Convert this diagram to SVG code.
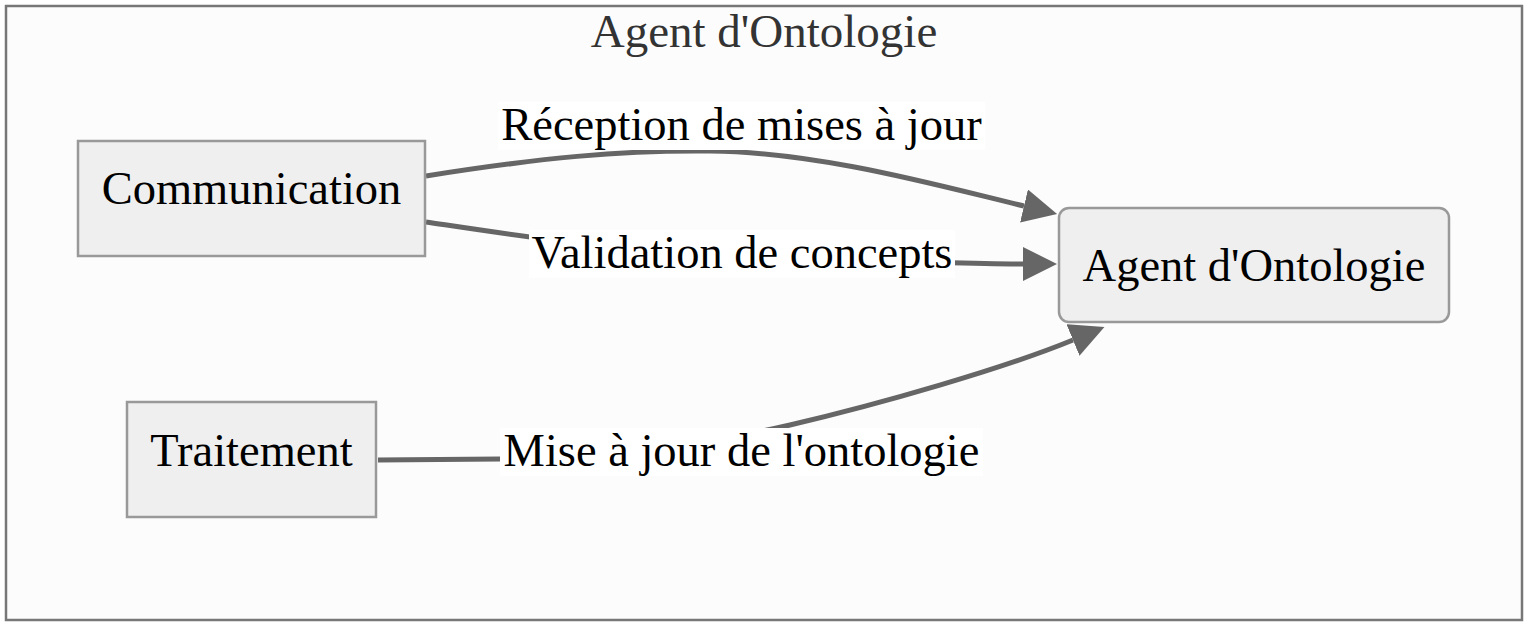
<svg xmlns="http://www.w3.org/2000/svg" width="1529" height="625" viewBox="0 0 1529 625">
  <style>
    .cluster { fill: #fcfcfc; stroke: #777777; stroke-width: 2.5; }
    .node { fill: #efefef; stroke: #999999; stroke-width: 2.5; }
    .txt { font-family: "Liberation Serif", "Times New Roman", serif; font-size: 46.5px; fill: #000000; text-anchor: middle; }
    .title { font-family: "Liberation Serif", "Times New Roman", serif; font-size: 47px; fill: #333333; text-anchor: middle; }
    .edge { fill: none; stroke: #666666; stroke-width: 5; }
    .lblbg { fill: #ffffff; stroke: none; }
  </style>
  <defs>
    <marker id="arrow" markerUnits="userSpaceOnUse" viewBox="0 0 34 34" markerWidth="34" markerHeight="34" refX="0" refY="17" orient="auto">
      <path d="M0,0 L34,17 L0,34 Z" fill="#666666"/>
    </marker>
  </defs>
  <rect x="0" y="0" width="1529" height="625" fill="#ffffff"/>
  <g id="cluster-agent">
    <rect class="cluster" x="6" y="6" width="1516" height="614"/>
    <text class="title" x="764" y="47">Agent d'Ontologie</text>
  </g>
  <g id="connectors">
    <path class="edge" d="M426,176 C540,158 620,150 710,151 C820,152 940,186 1024,206" marker-end="url(#arrow)"/>
    <path class="edge" d="M426,222 C520,236 620,252 742,256 C860,260 960,264 1023,264" marker-end="url(#arrow)"/>
    <path class="edge" d="M378,460 L500,459 C600,458 690,448 790,425 C880,404 1005,368 1073,340" marker-end="url(#arrow)"/>
    <g id="label-reception">
      <rect class="lblbg" x="498" y="102" width="487" height="48"/>
      <text class="txt" x="741.5" y="140">Réception de mises à jour</text>
    </g>
    <g id="label-validation">
      <rect class="lblbg" x="529" y="230" width="426" height="48"/>
      <text class="txt" x="742" y="268">Validation de concepts</text>
    </g>
    <g id="label-mise">
      <rect class="lblbg" x="500" y="428" width="483" height="48"/>
      <text class="txt" x="741.5" y="466">Mise à jour de l'ontologie</text>
    </g>
  </g>
  <g id="node-communication">
    <rect class="node" x="78" y="141" width="347" height="115"/>
    <text class="txt" x="251.5" y="204">Communication</text>
  </g>
  <g id="node-traitement">
    <rect class="node" x="127" y="402" width="249" height="115"/>
    <text class="txt" x="251.5" y="466">Traitement</text>
  </g>
  <g id="node-agent">
    <rect class="node" x="1059" y="208" width="390" height="114" rx="10" ry="10"/>
    <text class="txt" x="1254" y="281">Agent d'Ontologie</text>
  </g>
</svg>
